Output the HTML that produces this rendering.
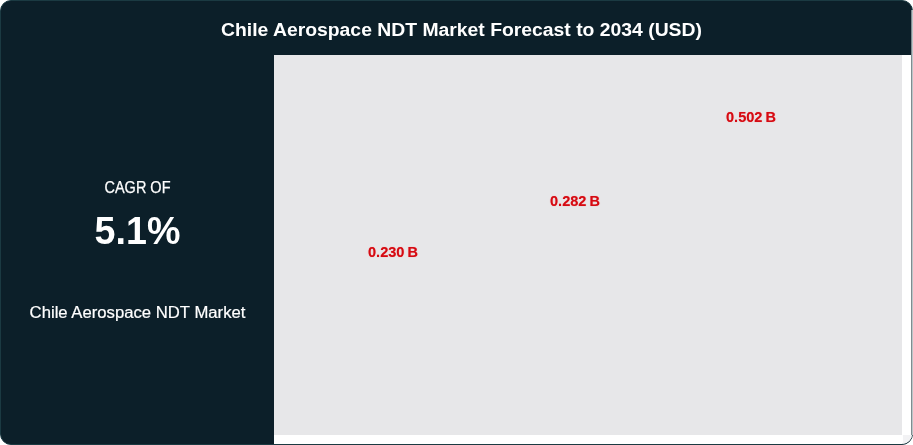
<!DOCTYPE html>
<html lang="en">
<head>
<meta charset="utf-8">
<title>Chile Aerospace NDT Market Forecast to 2034 (USD)</title>
<style>
  html, body { margin: 0; padding: 0; background: #ffffff; }
  body { width: 913px; height: 445px; overflow: hidden; position: relative;
         font-family: "Liberation Sans", sans-serif; }
  .card { position: absolute; left: 0; top: 0; width: 911px; height: 443px;
          border: 1px solid #1b3a42; border-radius: 11px; background: #0c1f29; overflow: hidden; }
  .title { position: absolute; left: 0; top: 0; width: 911px; height: 54px; color: #fff;
           font-weight: bold; font-size: 18.67px; line-height: 54px; white-space: nowrap; }
  .title span { position: absolute; left: 219.5px; top: 2px; transform-origin: 0 50%; transform: scaleX(1.037); }
  .side { position: absolute; left: 0; top: 54px; width: 273px; height: 389px; color: #fff; text-align: center; }
  .side div { position: absolute; left: 0; width: 273px; white-space: nowrap; transform-origin: 50% 50%; }
  .cagr { top: 123px; font-size: 15.6px; line-height: 20px; transform: scaleX(0.929); -webkit-text-stroke: 0.25px #fff; }
  .val  { top: 152px; font-size: 39px; line-height: 48px; font-weight: bold; transform: scaleX(0.965); }
  .name { top: 248px; font-size: 16px; line-height: 20px; transform: scaleX(1.043); -webkit-text-stroke: 0.2px #fff; }
  .plot { position: absolute; left: 273px; top: 54px; width: 638px; height: 389px; background: #ffffff; }
  .canvas { position: absolute; left: 0; top: 0; width: 628px; height: 380px; background: #e7e7e9; }
  .corner { position: absolute; left: 629px; top: 380px; width: 9px; height: 9px; background: #f2f2f4; }
  .edge1 { position: absolute; left: 911px; top: 10px; width: 1px; height: 425px; background: #7f8c90; }
  .edge2 { position: absolute; left: 912px; top: 10px; width: 1px; height: 425px; background: #bcc5c8; }
  .lbl { position: absolute; color: #d40b13; text-shadow: 0 0 0.8px rgba(255,48,48,0.65); font-weight: bold; font-size: 14px; line-height: 16px; white-space: nowrap; transform-origin: 0 50%; transform: scaleX(1.04); word-spacing: -1px; }
</style>
</head>
<body>
  <div class="card">
    <div class="title"><span>Chile Aerospace NDT Market Forecast to 2034 (USD)</span></div>
    <div class="side">
      <div class="cagr">CAGR OF</div>
      <div class="val">5.1%</div>
      <div class="name">Chile Aerospace NDT Market</div>
    </div>
    <div class="plot">
      <div class="canvas">
        <div class="lbl" style="left:94px; top:189px;">0.230 B</div>
        <div class="lbl" style="left:276px; top:138px;">0.282 B</div>
        <div class="lbl" style="left:452px; top:54px;">0.502 B</div>
      </div>
      <div class="corner"></div>
    </div>
  </div>
  <div class="edge1"></div>
  <div class="edge2"></div>
</body>
</html>
